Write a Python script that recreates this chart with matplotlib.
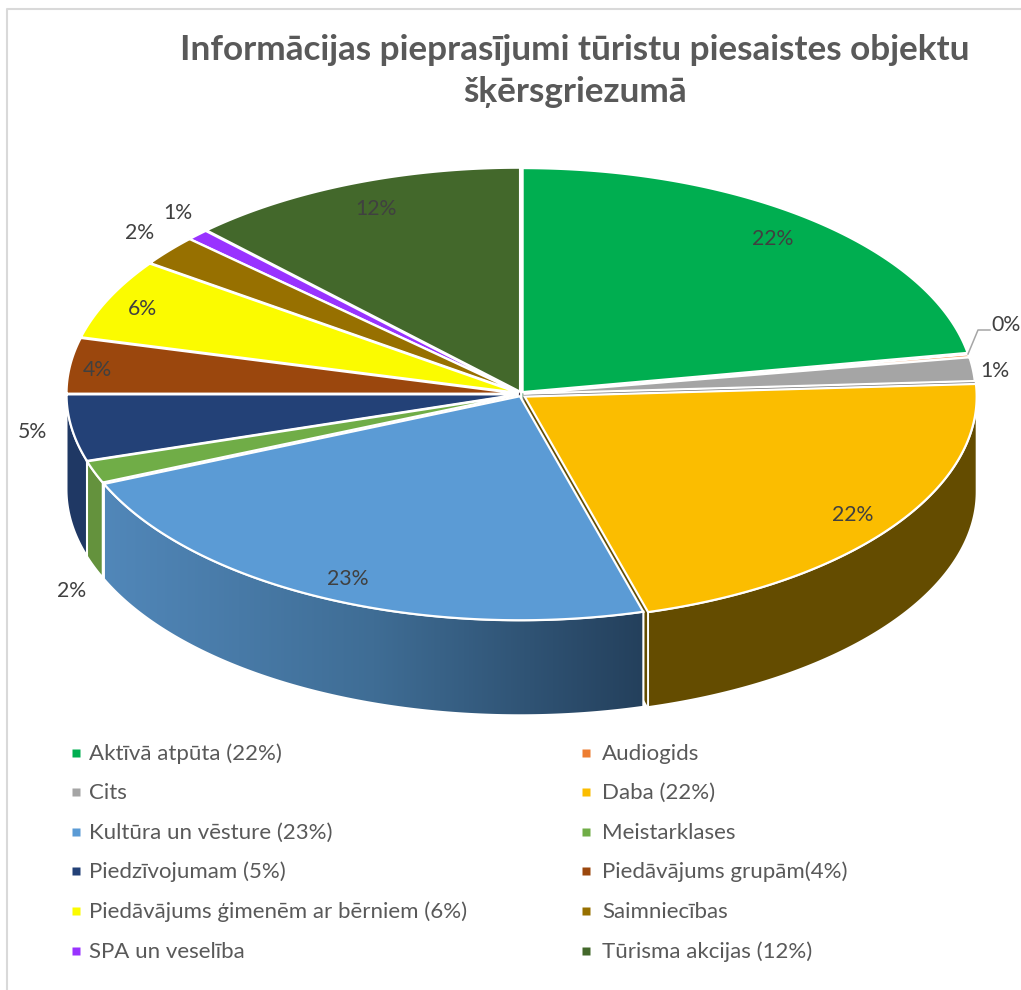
import numpy as np
import matplotlib
matplotlib.use("Agg")
import matplotlib.pyplot as plt
from matplotlib.colors import LinearSegmentedColormap
from matplotlib.patches import Polygon

plt.rcParams['font.family'] = ['Lato', 'DejaVu Sans']

categories = ["Aktīvā atpūta (22%)", "Audiogids", "Cits", "Daba (22%)",
              "Kultūra un vēsture (23%)", "Meistarklases", "Piedzīvojumam (5%)",
              "Piedāvājums grupām(4%)", "Piedāvājums ģimenēm ar bērniem (6%)",
              "Saimniecības", "SPA un veselība", "Tūrisma akcijas (12%)"]
shares = [22.2, 0.2, 1.7, 21.5, 23.0, 1.6, 4.8, 4.0, 5.8, 2.2, 0.8, 12.2]
share_labels = ["22%", "0%", "1%", "22%", "23%", "2%", "5%", "4%", "6%", "2%", "1%", "12%"]
title = "Informācijas pieprasījumi tūristu piesaistes objektu\nšķērsgriezumā"

top_colors = ["#00ae50", "#ed7d31", "#a5a5a5", "#fbbd00", "#5b9bd5", "#70ad47",
              "#234177", "#9b470d", "#fbfb00", "#977000", "#9933ff", "#43682b"]
wall_colors = ["#007a38", "#a65722", "#737373", "#644c00", "#3f6d95", "#64923d",
               "#1f3864", "#6d320a", "#b0b000", "#6b4f00", "#6b24b3", "#2f491e"]

# pixel geometry of the pie
CX, CY = 521, 394
RX, RY = 452, 224
DEPTH = 95
EXPLODE = 2.5
DABA_EXPLODE = 4.5

# label centres in pixels, same order as shares
label_xy = [(773, 239), (1006, 325), (995, 371), (853, 515), (348, 579), (72, 591),
            (32, 432), (97, 370), (142, 309), (140, 233), (178, 213), (376, 209)]


def rim(theta, ox, oy, drop=0):
    return np.column_stack([CX + ox + RX * np.sin(theta),
                            CY + oy - RY * np.cos(theta) + drop])


fig = plt.figure(figsize=(10.21, 9.90), dpi=100)
ax = fig.add_axes([0, 0, 1, 1])

edges = np.radians(np.cumsum([0] + shares) * 3.6)
mids = (edges[:-1] + edges[1:]) / 2
order = np.argsort(-np.cos(mids))

for i in order:
    start, end = edges[i], edges[i + 1]
    push = DABA_EXPLODE if i == 3 else EXPLODE
    ox = push * np.sin(mids[i])
    oy = -push * np.cos(mids[i])
    t = np.linspace(start, end, 120)
    apex = np.array([[CX + ox, CY + oy]])
    apex_low = apex + [0, DEPTH]

    # cut faces, only seen through the gaps
    for a in (start, end):
        edge = rim(np.array([a]), ox, oy)
        face = np.vstack([apex, edge, edge + [0, DEPTH], apex_low])
        ax.add_patch(Polygon(face, fc=wall_colors[i], ec="none", zorder=2))

    # outer wall, front half only
    front = t[np.cos(t) < 0]
    if len(front) > 1:
        wall = np.vstack([rim(front, ox, oy), rim(front, ox, oy, DEPTH)[::-1]])
        p = Polygon(wall, fc=wall_colors[i], ec="white", lw=1.4, zorder=3)
        ax.add_patch(p)
        if i == 4:
            # Kultura wall has a horizontal gradient
            cmap = LinearSegmentedColormap.from_list("wall", ["#5187b9", "#3f6d95", "#24405c"])
            x0, x1 = wall[:, 0].min(), wall[:, 0].max()
            y0, y1 = wall[:, 1].min(), wall[:, 1].max()
            im = ax.imshow(np.linspace(0, 1, 256)[None, :], cmap=cmap, aspect="auto",
                           extent=[x0, x1, y1, y0], zorder=3.1)
            im.set_clip_path(p)
            ax.add_patch(Polygon(wall, fc="none", ec="white", lw=1.4, zorder=3.2))

    # top surface
    top = np.vstack([apex, rim(t, ox, oy)])
    ax.add_patch(Polygon(top, fc=top_colors[i], ec="white", lw=1.6, zorder=4))

for txt, (x, y) in zip(share_labels, label_xy):
    ax.text(x, y, txt, fontsize=15.3, color="#404040", ha="center", va="center", zorder=6)

# leader line of the 0% label
ax.plot([968, 978, 990], [354, 330, 330], color="#a6a6a6", lw=1.1, zorder=6)

ax.text(575, 71, title, fontsize=25.3, fontweight="bold", color="#595959",
        ha="center", va="center", linespacing=1.36)

# legend, two columns filled row by row
col_marker = [76, 586]
col_text = [89, 602]
rows = [754, 793, 833, 872, 912, 952]
for k, name in enumerate(categories):
    col = k % 2
    y = rows[k // 2]
    ax.plot(col_marker[col], y - 1, "s", ms=5.5, color=top_colors[k], mec="none")
    ax.text(col_text[col], y, name, fontsize=16, color="#595959", va="center", ha="left")

# chart frame
ax.plot([7, 7, 1021], [990, 8.5, 8.5], color="#d9d9d9", lw=1.5)

ax.set_xlim(0, 1021)
ax.set_ylim(990, 0)
ax.axis("off")

fig.savefig("out.png", dpi=100)
